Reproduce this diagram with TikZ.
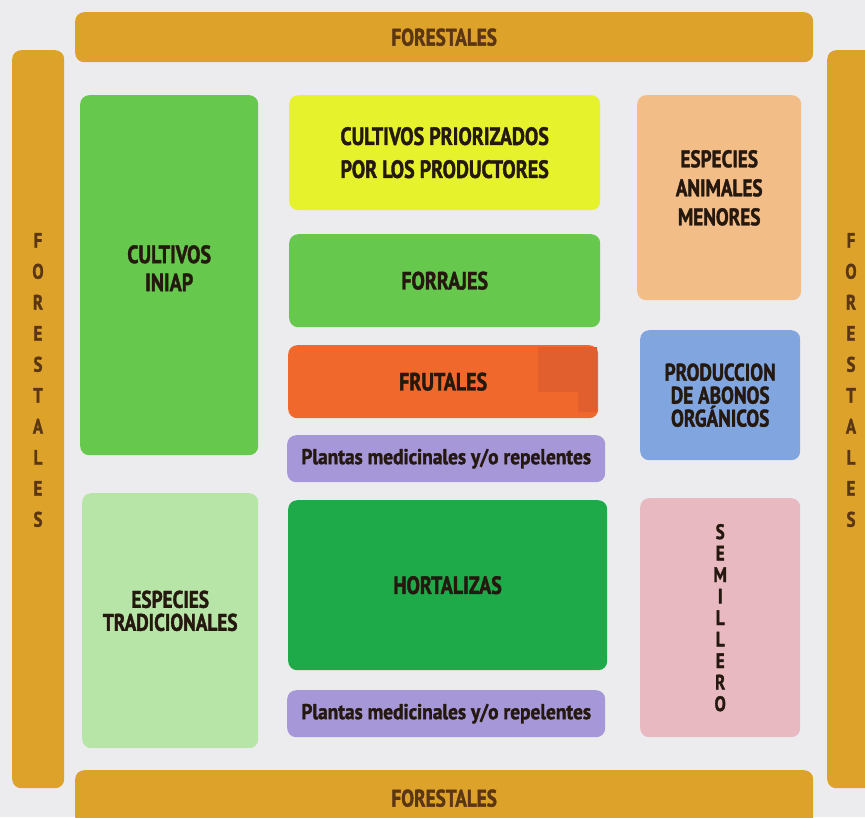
\documentclass[tikz,border=0pt]{standalone}
\usepackage{fontspec}
\setmainfont{PT Sans}[FakeStretch=0.80, BoldFeatures={FakeBold=1.5}]
\newfontfamily\ancha{PT Sans}[FakeStretch=0.90, BoldFeatures={FakeBold=1.5}]
\definecolor{fondo}{HTML}{ECECEE}
\definecolor{forestal}{HTML}{DDA22A}
\definecolor{cafe}{HTML}{5A3612}
\definecolor{tinta}{HTML}{24180F}
\definecolor{verdeA}{HTML}{66C94E}
\definecolor{verdeB}{HTML}{1FAA4A}
\definecolor{verdeC}{HTML}{B7E5A7}
\definecolor{amarillo}{HTML}{E6F22C}
\definecolor{naranja}{HTML}{F1682C}
\definecolor{naranjaB}{HTML}{E15E2F}
\definecolor{lila}{HTML}{A698D8}
\definecolor{durazno}{HTML}{F3BD88}
\definecolor{azul}{HTML}{80A5DF}
\definecolor{rosa}{HTML}{E8B9C1}
\begin{document}
\begin{tikzpicture}[x=1pt,y=-1pt]
	\tikzstyle{parcela} = [rounded corners=9pt, anchor=north west, inner sep=0, align=center, text=tinta, font=\bfseries\fontsize{25}{28}\selectfont]
	\tikzstyle{borde} = [parcela, fill=forestal, text=cafe, font=\bfseries\fontsize{24}{28}\selectfont]
	\tikzstyle{vertical} = [inner sep=0, align=center, font=\bfseries\fontsize{21}{31}\selectfont]
	\tikzstyle{plantas} = [parcela, fill=lila, minimum width=318, minimum height=47, font=\ancha\bfseries\fontsize{21.5}{22}\selectfont]
	\useasboundingbox (0,0) rectangle (865,817);
	\fill [fondo] (0,0) rectangle (865,817);
	\clip (0,0) rectangle (865,817);
	% franjas de forestales
	\node [borde, minimum width=738, minimum height=50] (fsup) at (75,12) {FORESTALES};
	\node [borde, minimum width=738, minimum height=56] (finf) at (75,770) {FORESTALES};
	\node [borde, minimum width=52, minimum height=738] (fizq) at (12,50) {};
	\node [borde, minimum width=60, minimum height=738] (fder) at (827,50) {};
	\node [vertical, text=cafe] (tizq) at (38,380) {F\\O\\R\\E\\S\\T\\A\\L\\E\\S};
	\node [vertical, text=cafe] (tder) at (851,380) {F\\O\\R\\E\\S\\T\\A\\L\\E\\S};
	% columna izquierda
	\node [parcela, fill=verdeA, minimum width=178, minimum height=360] (iniap) at (80,95) {CULTIVOS\\INIAP\\[-14pt]};
	\node [parcela, fill=verdeC, minimum width=176, minimum height=255, font=\bfseries\fontsize{24}{23}\selectfont] (tradic) at (82,493) {ESPECIES\\TRADICIONALES\\[-3pt]};
	% columna central
	\node [parcela, fill=amarillo, minimum width=311, minimum height=115, font=\bfseries\fontsize{25}{33}\selectfont] (prior) at (289,95) {CULTIVOS PRIORIZADOS\\POR LOS PRODUCTORES};
	\node [parcela, fill=verdeA, minimum width=311, minimum height=93] (forraje) at (289,234) {FORRAJES};
	\node [parcela, fill=naranja, minimum width=310, minimum height=73] (frutal) at (288,345) {FRUTALES};
	\fill [naranjaB] (538,347) rectangle (597,392) (578,392) rectangle (597,412);
	\node [plantas] (plan1) at (287,435) {Plantas medicinales y/o repelentes};
	\node [parcela, fill=verdeB, minimum width=319, minimum height=170] (hortal) at (288,500) {HORTALIZAS};
	\node [plantas] (plan2) at (287,690) {Plantas medicinales y/o repelentes};
	% columna derecha
	\node [parcela, fill=durazno, minimum width=164, minimum height=205, font=\bfseries\fontsize{24}{29}\selectfont] (animal) at (637,95) {ESPECIES\\ANIMALES\\MENORES\\[-9pt]};
	\node [parcela, fill=azul, minimum width=160, minimum height=130, font=\bfseries\fontsize{24}{23}\selectfont] (abono) at (640,330) {PRODUCCION\\DE ABONOS\\ORGÁNICOS};
	\node [parcela, fill=rosa, minimum width=160, minimum height=239, font=\bfseries\fontsize{21}{21.5}\selectfont] (semilla) at (640,498) {S\\E\\M\\I\\L\\L\\E\\R\\O};
\end{tikzpicture}
\end{document}
